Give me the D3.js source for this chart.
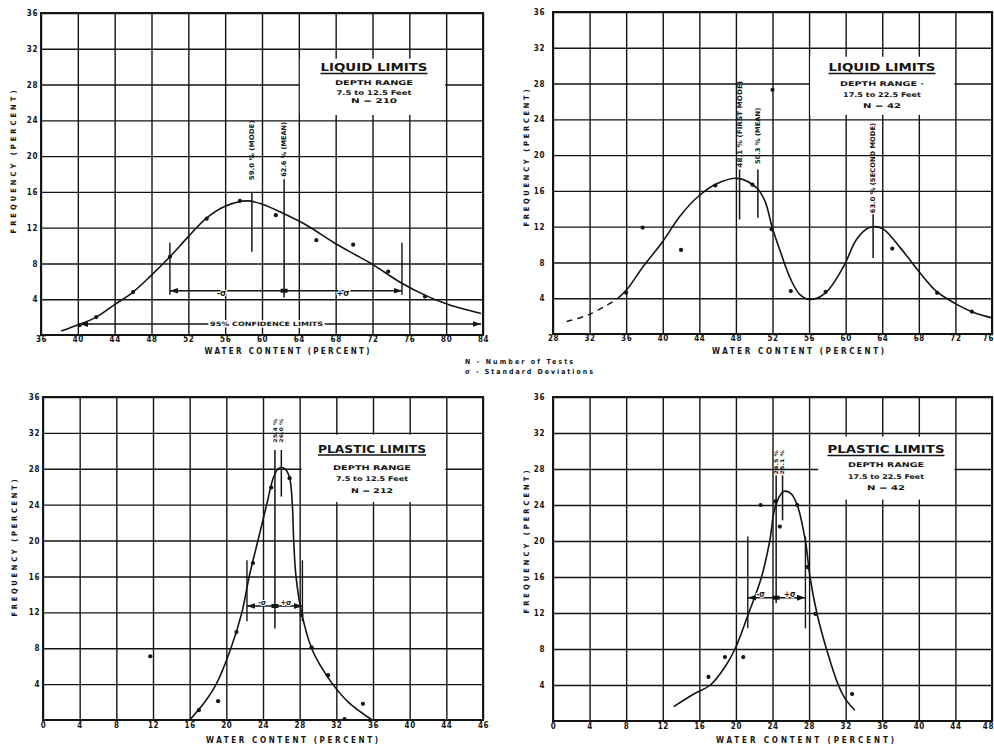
<!DOCTYPE html>
<html>
<head>
<meta charset="utf-8">
<script src="https://cdn.jsdelivr.net/npm/d3@7"></script>
<style>
  body { margin: 0; background: #fff; }
  svg { display: block; }
</style>
</head>
<body>
<svg id="chart" width="994" height="748"></svg>
<script>
// ---- values ----
const freqTicks = [4, 8, 12, 16, 20, 24, 28, 32, 36];

// liquid limits, 7.5 to 12.5 ft
const llTicksA = [36, 40, 44, 48, 52, 56, 60, 64, 68, 72, 76, 80, 84];
const llCurveA = [[38.2,0.45],[40.2,1.2],[42,2.0],[44,3.4],[46,4.8],[48,6.7],[50,8.75],[52,11],[54,13.1],
  [56,14.4],[58.4,15.0],[60.1,14.6],[62.3,13.6],[64.8,12.3],[67.7,10.4],[69.9,9.1],[72,7.9],[75,5.9],
  [77.8,4.4],[80,3.5],[83.8,2.4]];
const llPointsA = [[40.2,1.1],[42,2.0],[46,4.8],[50,8.75],[54,13],[57.6,15],[61.5,13.4],[65.9,10.6],
  [69.9,10.1],[73.7,7.1],[77.7,4.3]];
const llMarksA = [
  { x: 58.9, lo: 9.3, hi: 15.9, label: "59.0 % (MODE)", l0: 17.3, l1: 24 },
  { x: 62.4, lo: 4.2, hi: 17.4, label: "62.6 % (MEAN)", l0: 17.7, l1: 23.8 }
];
const llSigmaA = { lo: 50, hi: 75.2, mean: 62.4, y: 4.95, top: 10.3, bot: 4.5, minus: 55.6, plus: 68.8, ly: 4.7 };
const llConfA = { lo: 40.2, hi: 83.8, y: 1.23, at: 60.5 };

// liquid limits, 17.5 to 22.5 ft
const llTicksB = [28, 32, 36, 40, 44, 48, 52, 56, 60, 64, 68, 72, 76];
const llDashB = [[29.5,1.4],[32,2.2],[35,3.9]];
const llCurveB = [[35,3.9],[36.1,5.0],[37.9,7.6],[39.9,10.2],[41.9,13.2],[43.9,15.4],[45.9,16.8],[48.2,17.4],
  [50.3,16.3],[51.2,14.8],[51.95,12.0],[52.9,9.1],[54,6.1],[55,4.4],[56.1,3.85],[57.8,4.6],[59.8,7.6],
  [61.2,10.6],[62.6,11.9],[64,11.8],[66,9.6],[68,7.0],[70,4.7],[72,3.4],[74,2.4],[76,1.8]];
const llPointsB = [[36,4.6],[37.8,11.9],[42,9.4],[45.75,16.6],[49.8,16.7],[52,27.3],[51.9,11.7],[54,4.8],
  [57.8,4.7],[65.1,9.55],[70,4.6],[73.8,2.5]];
const llMarksB = [
  { x: 48.4, lo: 12.8, hi: 18.4, label: "48.1 % (FIRST MODE)", l0: 18.6, l1: 28.3 },
  { x: 50.4, lo: 13.0, hi: 18.4, label: "50.3 % (MEAN)", l0: 19.0, l1: 25.3 },
  { x: 63.0, lo: 8.5, hi: 13.4, label: "63.0 % (SECOND MODE)", l0: 13.5, l1: 23.6 }
];

// plastic limits, 7.5 to 12.5 ft
const plTicksA = [0, 4, 8, 12, 16, 20, 24, 28, 32, 36, 40, 44, 48];
const plLabelsA = ["0", "4", "8", "12", "16", "20", "24", "28", "32", "36", "40", "44", "46"];
const plCurveA = [[16,0],[17.5,1.8],[18.9,4],[20.5,8],[21.7,12],[22.5,16],[23.45,20],[24.4,24],[25.2,27.2],
  [25.8,28.1],[26.4,28.0],[26.9,27],[27.2,24],[27.35,20],[27.6,16],[28.2,12],[29.3,8],[30.3,6],[31.6,4],
  [33.3,2],[35.9,0]];
const plPointsA = [[17,1.1],[19.1,2.1],[21.1,9.8],[22.9,17.5],[24.9,25.9],[26.9,26.95],[28.2,11.7],
  [29.3,8.1],[31.1,5.0],[32.9,0.1],[34.9,1.8],[11.7,7.1]];
const plMarksA = [
  { x: 25.3, lo: 10.2, hi: 30.1, label: "25.4 %", l0: 30.9, l1: 33.6 },
  { x: 26.0, lo: 24.9, hi: 30.1, label: "26.0 %", l0: 30.9, l1: 33.6 }
];
const plSigmaA = { lo: 22.25, hi: 28.3, mean: 25.3, y: 12.7, top: 17.8, bot: 11.0, minus: 23.9, plus: 26.5, ly: 13.1 };

// plastic limits, 17.5 to 22.5 ft
const plTicksB = [0, 4, 8, 12, 16, 20, 24, 28, 32, 36, 40, 44, 48];
const plCurveB = [[13.2,1.6],[15.4,3.0],[17.2,4],[18.8,6],[19.9,8],[21.4,12],[22.8,16],[23.7,20],[24.3,23.8],
  [25.2,25.5],[26,25.3],[26.7,24],[27.6,20],[28.1,16],[28.85,12],[29.9,8],[31.2,4],[32,2.4],[33,1.2]];
const plPointsB = [[17,4.9],[18.8,7.1],[20.8,7.1],[22.7,24],[24.3,24.4],[24.8,21.6],[26.7,24],[27.8,17.1],
  [28.7,11.9],[32.7,3.0]];
const plMarksB = [
  { x: 24.4, lo: 13.1, hi: 27.3, label: "24.5 %", l0: 27.4, l1: 30.1 },
  { x: 25.1, lo: 22.3, hi: 27.3, label: "25.1 %", l0: 27.4, l1: 30.1 }
];
const plSigmaB = { lo: 21.3, hi: 27.6, mean: 24.4, y: 13.7, top: 20.5, bot: 10.3, minus: 22.7, plus: 25.9, ly: 14.1 };

// ---- drawing ----
const FONT = "'DejaVu Sans Condensed', 'DejaVu Sans', sans-serif";
const INK = "#141414";
const svg = d3.select("#chart").attr("font-family", FONT).attr("font-weight", "bold");

svg.append("defs").append("marker")
  .attr("id", "arrow").attr("viewBox", "0 0 10 10").attr("refX", 10).attr("refY", 5)
  .attr("markerWidth", 6).attr("markerHeight", 6).attr("orient", "auto-start-reverse")
  .append("path").attr("d", "M0,1.5L10,5L0,8.5Z").attr("fill", INK);

const panels = [
  { box: { left: 41, right: 483, top: 13, bottom: 335 }, xTicks: llTicksA, xLabels: llTicksA, yPad: 3, xPad: 1.5,
    curve: llCurveA, points: llPointsA, marks: llMarksA, sigma: llSigmaA, conf: llConfA, sigFont: 9,
    legend: { x0: 64, x1: 80, y0: 24.6, y1: 30.9, cx: 374, title: "LIQUID LIMITS", tw: 107,
      ty: 71, lines: ["DEPTH RANGE", "7.5 to 12.5 Feet", "N = 210"], lw: [78, 75, 46], ly: [85, 94.5, 103] },
    xTitle: { cx: 287, y: 354, w: 165 }, yTitle: { x: 16, cy: 162, w: 143 }, markFont: 6.5 },
  { box: { left: 553, right: 992, top: 12, bottom: 334 }, xTicks: llTicksB, xLabels: llTicksB, yPad: 8, xPad: 1.5,
    curve: llCurveB, dash: llDashB, points: llPointsB, marks: llMarksB,
    legend: { x0: 56, x1: 72, y0: 24.5, y1: 31, cx: 882, title: "LIQUID LIMITS", tw: 107,
      ty: 71, lines: ["DEPTH RANGE ·", "17.5 to 22.5 Feet", "N = 42"], lw: [84, 78, 38], ly: [86, 97, 108] },
    xTitle: { cx: 798, y: 354, w: 172 }, yTitle: { x: 529, cy: 158, w: 137 }, markFont: 6.5 },
  { box: { left: 43, right: 483, top: 397, bottom: 720 }, xTicks: plTicksA, xLabels: plLabelsA, yPad: 3, xPad: 2.5,
    curve: plCurveA, points: plPointsA, marks: plMarksA, sigma: plSigmaA, sigFont: 7.5,
    legend: { x0: 28.1, x1: 44, y0: 24.3, y1: 31.8, cx: 372, title: "PLASTIC LIMITS", tw: 108,
      ty: 452.5, lines: ["DEPTH RANGE", "7.5 to 12.5 Feet", "N = 212"], lw: [78, 72, 42], ly: [470, 481, 492.5] },
    xTitle: { cx: 292, y: 743, w: 172 }, yTitle: { x: 17, cy: 548, w: 137 }, markFont: 5 },
  { box: { left: 553, right: 992, top: 397, bottom: 721 }, xTicks: plTicksB, xLabels: plTicksB, yPad: 8, xPad: 2.5,
    curve: plCurveB, points: plPointsB, marks: plMarksB, sigma: plSigmaB, sigFont: 8,
    legend: { x0: 28.9, x1: 44, y0: 24.6, y1: 31.6, cx: 886, title: "PLASTIC LIMITS", tw: 117,
      ty: 453, lines: ["DEPTH RANGE", "17.5 to 22.5 Feet", "N = 42"], lw: [76, 76, 38], ly: [467, 479, 490] },
    xTitle: { cx: 805, y: 743, w: 178 }, yTitle: { x: 529, cy: 542, w: 143 }, markFont: 5 }
];

function drawPanel(p) {
  const b = p.box;
  const x = d3.scaleLinear().domain([p.xTicks[0], p.xTicks[p.xTicks.length - 1]]).range([b.left, b.right]);
  const y = d3.scaleLinear().domain([0, 36]).range([b.bottom, b.top]);
  const g = svg.append("g");
  const w = b.right - b.left, h = b.bottom - b.top;

  // grid comes from the axes' long ticks
  const gx = g.append("g").attr("transform", `translate(0,${b.bottom})`)
    .call(d3.axisBottom(x).tickValues(p.xTicks).tickSize(-h).tickPadding(p.xPad)
      .tickFormat((d, i) => p.xLabels[i]));
  const gy = g.append("g").attr("transform", `translate(${b.left},0)`)
    .call(d3.axisLeft(y).tickValues(freqTicks).tickSize(-w).tickPadding(p.yPad));
  [gx, gy].forEach(a => {
    a.attr("font-family", FONT).attr("font-size", 8);
    a.select(".domain").remove();
    a.selectAll(".tick line").attr("stroke", INK).attr("stroke-width", 1.4);
    a.selectAll(".tick text").attr("fill", INK).attr("letter-spacing", 0.6);
  });
  // last label sits on the sheet edge on the right-hand panels
  if (b.right > 900) gx.selectAll(".tick:last-of-type text").attr("text-anchor", "end").attr("dx", 1.5);

  g.append("rect").attr("x", b.left).attr("y", b.top).attr("width", w).attr("height", h)
    .attr("fill", "none").attr("stroke", INK).attr("stroke-width", 2);

  // legend box knocks out the grid
  const L = p.legend;
  g.append("rect").attr("x", x(L.x0) + 1).attr("y", y(L.y1)).attr("width", x(L.x1) - x(L.x0) - 2)
    .attr("height", y(L.y0) - y(L.y1)).attr("fill", "#fff");
  g.append("text").attr("x", L.cx).attr("y", L.ty).attr("text-anchor", "middle").attr("font-size", 11)
    .attr("textLength", L.tw).attr("lengthAdjust", "spacingAndGlyphs").attr("fill", INK).text(L.title);
  g.append("line").attr("x1", L.cx - L.tw / 2).attr("x2", L.cx + L.tw / 2)
    .attr("y1", L.ty + 2.5).attr("y2", L.ty + 2.5).attr("stroke", INK).attr("stroke-width", 1.3);
  L.lines.forEach((t, i) => {
    g.append("text").attr("x", L.cx).attr("y", L.ly[i]).attr("text-anchor", "middle").attr("font-size", 6.5)
      .attr("textLength", L.lw[i]).attr("lengthAdjust", "spacingAndGlyphs").attr("fill", INK).text(t);
  });

  // fitted curve
  const line = d3.line().x(d => x(d[0])).y(d => y(d[1])).curve(d3.curveCatmullRom.alpha(0.5));
  g.append("path").attr("d", line(p.curve)).attr("fill", "none").attr("stroke", INK).attr("stroke-width", 1.6);
  if (p.dash) {
    g.append("path").attr("d", line(p.dash)).attr("fill", "none").attr("stroke", INK)
      .attr("stroke-width", 1.4).attr("stroke-dasharray", "6,5");
  }

  // observed frequencies
  g.selectAll(".pt").data(p.points).join("circle")
    .attr("cx", d => x(d[0])).attr("cy", d => y(d[1])).attr("r", 2.1).attr("fill", INK);

  // mode / mean markers with rotated labels
  p.marks.forEach(m => {
    g.append("line").attr("x1", x(m.x)).attr("x2", x(m.x)).attr("y1", y(m.lo)).attr("y2", y(m.hi))
      .attr("stroke", INK).attr("stroke-width", 1.5);
    const len = y(m.l0) - y(m.l1);
    g.append("text").attr("transform", `translate(${x(m.x) + p.markFont * 0.36},${y(m.l0)}) rotate(-90)`)
      .attr("font-size", p.markFont).attr("textLength", len).attr("lengthAdjust", "spacingAndGlyphs")
      .attr("fill", INK).text(m.label);
  });

  // standard deviation bar
  if (p.sigma) {
    const s = p.sigma;
    [s.lo, s.hi].forEach(v => {
      g.append("line").attr("x1", x(v)).attr("x2", x(v)).attr("y1", y(s.top)).attr("y2", y(s.bot))
        .attr("stroke", INK).attr("stroke-width", 1.4);
    });
    g.append("line").attr("x1", x(s.lo)).attr("x2", x(s.hi)).attr("y1", y(s.y)).attr("y2", y(s.y))
      .attr("stroke", INK).attr("stroke-width", 1.4)
      .attr("marker-start", "url(#arrow)").attr("marker-end", "url(#arrow)");
    g.append("rect").attr("x", x(s.mean) - 3.5).attr("y", y(s.y) - 2).attr("width", 7).attr("height", 4).attr("fill", INK);
    [[s.minus, "-σ"], [s.plus, "+σ"]].forEach(([v, t]) => {
      g.append("text").attr("x", x(v)).attr("y", y(s.ly) + p.sigFont * 0.35).attr("text-anchor", "middle")
        .attr("font-size", p.sigFont).attr("fill", INK).attr("stroke", "#fff").attr("stroke-width", 2)
        .attr("paint-order", "stroke").text(t);
    });
  }

  // 95% confidence band
  if (p.conf) {
    const c = p.conf;
    g.append("line").attr("x1", x(c.lo)).attr("x2", x(c.hi)).attr("y1", y(c.y)).attr("y2", y(c.y))
      .attr("stroke", INK).attr("stroke-width", 1.4)
      .attr("marker-start", "url(#arrow)").attr("marker-end", "url(#arrow)");
    g.append("text").attr("x", x(c.at)).attr("y", y(c.y) + 2.2).attr("text-anchor", "middle")
      .attr("font-size", 6).attr("textLength", 113).attr("lengthAdjust", "spacingAndGlyphs")
      .attr("fill", INK).attr("stroke", "#fff").attr("stroke-width", 3).attr("paint-order", "stroke")
      .text("95% CONFIDENCE LIMITS");
  }

  // axis titles
  g.append("text").attr("x", p.xTitle.cx).attr("y", p.xTitle.y).attr("text-anchor", "middle")
    .attr("font-size", 8).attr("textLength", p.xTitle.w).attr("lengthAdjust", "spacing")
    .attr("fill", INK).text("WATER  CONTENT  (PERCENT)");
  g.append("text").attr("transform", `translate(${p.yTitle.x},${p.yTitle.cy}) rotate(-90)`)
    .attr("text-anchor", "middle").attr("font-size", 7.5).attr("textLength", p.yTitle.w)
    .attr("lengthAdjust", "spacing").attr("fill", INK).text("FREQUENCY (PERCENT)");
}

panels.forEach(drawPanel);

// shared key between the two rows
svg.append("text").attr("x", 465).attr("y", 364).attr("font-size", 7).attr("textLength", 108)
  .attr("lengthAdjust", "spacing").attr("fill", INK).text("N  -  Number  of  Tests");
svg.append("text").attr("x", 465).attr("y", 374).attr("font-size", 7).attr("textLength", 128)
  .attr("lengthAdjust", "spacing").attr("fill", INK).text("σ  -  Standard   Deviations");
</script>
</body>
</html>
